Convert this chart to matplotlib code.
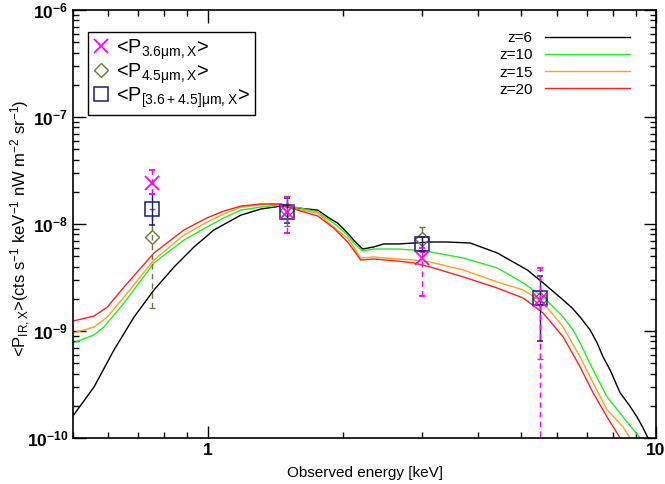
import numpy as np
import matplotlib
matplotlib.use("Agg")
import matplotlib.pyplot as plt
from matplotlib.lines import Line2D
from matplotlib.ticker import NullFormatter

plt.rcParams['font.family'] = ['Liberation Sans', 'DejaVu Sans']
plt.rcParams['mathtext.default'] = 'regular'

# model spectra, energy in keV, flux in cts s^-1 keV^-1 nW m^-2 sr^-1
e_z6 = [0.50, 0.557, 0.617, 0.684, 0.758, 0.840, 0.931, 1.031, 1.184, 1.312, 1.454,
        1.586, 1.670, 1.758, 1.851, 1.948, 2.050, 2.114, 2.214, 2.343, 2.466, 2.650,
        2.877, 3.139, 3.424, 3.852, 4.424, 5.161, 5.602, 6.206, 6.50, 6.771, 7.13,
        7.389, 7.62, 7.899, 8.316, 8.70, 9.073, 9.35, 9.598, 9.9]
f_z6 = [1.61e-10, 3.00e-10, 6.64e-10, 1.35e-9, 2.42e-9, 3.96e-9, 6.10e-9, 8.79e-9,
        1.21e-8, 1.38e-8, 1.47e-8, 1.41e-8, 1.38e-8, 1.35e-8, 1.16e-8, 1.02e-8,
        8.23e-9, 7.08e-9, 5.84e-9, 6.10e-9, 6.51e-9, 6.51e-9, 6.64e-9, 6.79e-9,
        6.79e-9, 6.64e-9, 5.36e-9, 3.72e-9, 2.81e-9, 1.95e-9, 1.64e-9, 1.35e-9,
        1.02e-9, 7.73e-10, 5.71e-10, 4.32e-10, 2.64e-10, 2.05e-10, 1.57e-10,
        1.25e-10, 1.0e-10, 8.0e-11]

e_z10 = [0.50, 0.557, 0.586, 0.650, 0.758, 0.884, 0.995, 1.085, 1.184, 1.312, 1.454,
         1.611, 1.758, 1.908, 2.050, 2.114, 2.214, 2.343, 2.650, 2.877, 3.139, 3.717,
         4.424, 5.056, 5.602, 6.206, 6.53, 6.771, 7.239, 7.778, 8.445, 9.213, 9.6]
f_z10 = [7.73e-10, 9.18e-10, 1.09e-9, 1.83e-9, 4.33e-9, 7.08e-9, 9.37e-9, 1.14e-8,
         1.35e-8, 1.44e-8, 1.51e-8, 1.41e-8, 1.29e-8, 1.02e-8, 7.89e-9, 6.64e-9,
         5.60e-9, 5.84e-9, 5.84e-9, 5.71e-9, 5.47e-9, 4.81e-9, 3.88e-9, 2.81e-9,
         2.08e-9, 1.35e-9, 1.02e-9, 7.73e-10, 4.32e-10, 2.42e-10, 1.57e-10, 1.0e-10,
         8.0e-11]

e_z15 = [0.50, 0.557, 0.596, 0.650, 0.758, 0.884, 0.995, 1.085, 1.184, 1.312, 1.454,
         1.611, 1.758, 1.908, 2.050, 2.114, 2.192, 2.343, 2.650, 2.877, 3.139, 3.717,
         4.424, 5.056, 5.602, 6.206, 6.771, 7.239, 7.778, 8.445, 8.752, 9.1]
f_z15 = [9.57e-10, 1.09e-9, 1.35e-9, 2.08e-9, 4.61e-9, 7.89e-9, 1.04e-8, 1.24e-8,
         1.44e-8, 1.51e-8, 1.54e-8, 1.35e-8, 1.27e-8, 9.37e-9, 7.39e-9, 6.10e-9,
         4.81e-9, 4.92e-9, 4.71e-9, 4.61e-9, 4.41e-9, 3.72e-9, 2.87e-9, 2.42e-9,
         1.83e-9, 1.09e-9, 5.71e-10, 3.27e-10, 1.83e-10, 1.27e-10, 1.0e-10, 8.0e-11]

e_z20 = [0.50, 0.557, 0.596, 0.650, 0.758, 0.884, 0.995, 1.085, 1.184, 1.312, 1.454,
         1.611, 1.758, 1.908, 2.050, 2.114, 2.192, 2.343, 2.650, 2.877, 3.139, 3.717,
         4.424, 5.056, 5.602, 6.206, 6.771, 7.239, 7.778, 8.316, 8.6]
f_z20 = [1.24e-9, 1.38e-9, 1.67e-9, 2.58e-9, 5.36e-9, 8.79e-9, 1.14e-8, 1.32e-8,
         1.47e-8, 1.54e-8, 1.54e-8, 1.32e-8, 1.19e-8, 9.18e-9, 6.79e-9, 5.71e-9,
         4.61e-9, 4.71e-9, 4.51e-9, 4.33e-9, 3.96e-9, 3.20e-9, 2.52e-9, 2.03e-9,
         1.47e-9, 8.79e-10, 4.61e-10, 2.64e-10, 1.57e-10, 1.0e-10, 8.0e-11]

# measured cross-power, with lower / upper ends of the error bars
e_pts = [0.75, 1.5, 3.0, 5.5]
p36 = [2.41e-8, 1.30e-8, 4.80e-9, 1.95e-9]
p36_lo = [1.90e-8, 8.2e-9, 2.12e-9, 1.0e-11]
p36_hi = [3.20e-8, 1.80e-8, 6.0e-9, 3.90e-9]
p45 = [7.6e-9, 1.35e-8, 7.2e-9, 2.0e-9]
p45_lo = [1.65e-9, 9.6e-9, 5.5e-9, 5.5e-10]
p45_hi = [1.38e-8, 1.83e-8, 9.4e-9, 3.7e-9]
pboth = [1.38e-8, 1.30e-8, 6.5e-9, 2.03e-9]
pboth_lo = [9.8e-9, 1.02e-8, 5.6e-9, 8.1e-10]
pboth_hi = [1.90e-8, 1.75e-8, 7.5e-9, 3.27e-9]

fig = plt.figure(figsize=(6.65, 4.84), dpi=100)
ax = fig.add_axes([0.1098, 0.095, 0.8767, 0.8843])

kw = dict(lw=1.0, solid_joinstyle='round')
l6, = ax.plot(e_z6, f_z6, color='black', **kw)
l10, = ax.plot(e_z10, f_z10, color='#22ee22', **kw)
l15, = ax.plot(e_z15, f_z15, color='#ffa020', **kw)
l20, = ax.plot(e_z20, f_z20, color='#ff2020', **kw)


def err(vals, lo, hi):
    v = np.array(vals)
    return [v - np.array(lo), np.array(hi) - v]


eb45 = ax.errorbar(e_pts, p45, yerr=err(p45, p45_lo, p45_hi), fmt='D', ms=7,
                   mfc='none', mec='#6b7a3c', mew=1.0, ecolor='#6b7a3c',
                   elinewidth=1.0, capsize=2.5, zorder=3)
eb45[2][0].set_linestyle((0, (4, 3)))
ebb = ax.errorbar(e_pts, pboth, yerr=err(pboth, pboth_lo, pboth_hi), fmt='s', ms=10,
                  mfc='none', mec='#1a1a80', mew=1.1, ecolor='#1a1a80',
                  elinewidth=1.0, capsize=2.5, zorder=4)
eb36 = ax.errorbar(e_pts, p36, yerr=err(p36, p36_lo, p36_hi), fmt='x', ms=10,
                   mec='magenta', mew=1.3, ecolor='magenta',
                   elinewidth=1.0, capsize=2.5, zorder=5)
eb36[2][0].set_linestyle((0, (4, 3)))

ax.set_xscale('log')
ax.set_yscale('log')
ax.set_xlim(0.5, 10)
ax.set_ylim(1e-10, 1e-6)
ax.set_xticks([1, 10])
ax.set_xticklabels(['1', '10'])
ax.xaxis.set_minor_formatter(NullFormatter())
ax.yaxis.set_minor_formatter(NullFormatter())
ax.tick_params(which='both', direction='in', top=True, right=True, width=1.0)
ax.tick_params(which='major', length=9, labelsize=12.5)
ax.tick_params(which='minor', length=4.5)
for lab in ax.get_yticklabels() + ax.get_xticklabels():
    lab.set_fontweight('bold')
for s in ax.spines.values():
    s.set_linewidth(1.2)

ax.set_xlabel('Observed energy [keV]', fontsize=11, labelpad=6)
ax.set_ylabel(r'<P$_{IR,X}$>(cts s$^{-1}$ keV$^{-1}$ nW m$^{-2}$ sr$^{-1}$)',
              fontsize=12)
ax.yaxis.set_label_coords(-0.068, 0.49)

h36 = Line2D([], [], ls='none', marker='x', ms=10, mec='magenta', mew=1.3)
h45 = Line2D([], [], ls='none', marker='D', ms=7, mfc='none', mec='#6b7a3c', mew=1.0)
hb = Line2D([], [], ls='none', marker='s', ms=10, mfc='none', mec='#1a1a80', mew=1.1)
leg1 = ax.legend([h36, h45, hb],
                 [r'<P$_{3.6μm,X}$>', r'<P$_{4.5μm,X}$>', r'<P$_{[3.6+4.5]μm,X}$>'],
                 loc='upper left', bbox_to_anchor=(0.025, 0.948), fontsize=14.3,
                 frameon=True, fancybox=False, edgecolor='black', framealpha=1,
                 handlelength=0.8, handletextpad=0.4, labelspacing=-0.03,
                 borderpad=0.25, borderaxespad=0)
leg1.get_frame().set_linewidth(1.0)
ax.add_artist(leg1)

ax.legend([l6, l10, l15, l20], ['z=6', 'z=10', 'z=15', 'z=20'],
          loc='upper right', bbox_to_anchor=(0.956, 0.95), fontsize=11,
          frameon=False, markerfirst=False, handlelength=5.6, handletextpad=0.8,
          labelspacing=0.2, borderaxespad=0, borderpad=0)

fig.savefig('out.png', dpi=100)
